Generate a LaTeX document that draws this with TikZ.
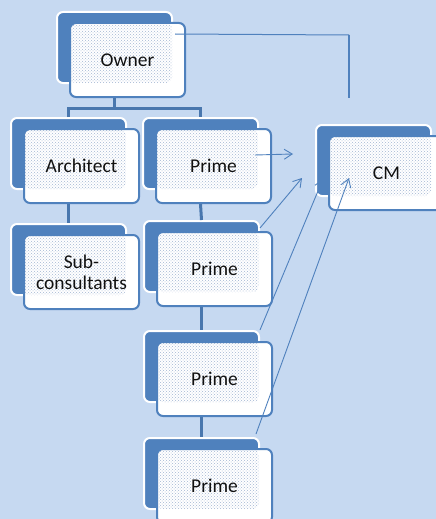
\documentclass[tikz,border=0pt]{standalone}
\usepackage{fontspec}
\setmainfont{Carlito}
\usetikzlibrary{arrows.meta,patterns,calc}
\definecolor{paper}{HTML}{C6D9F1}
\definecolor{accent}{HTML}{4F81BD}
\definecolor{dotgrey}{HTML}{A3B6D3}
\definecolor{ink}{HTML}{111111}

\begin{document}
\begin{tikzpicture}[
  x=1pt,y=-1pt,
  back/.style={draw=white,line width=2pt,fill=accent,rounded corners=6pt,anchor=north west,minimum width=115pt,minimum height=71pt,inner sep=0pt},
  front/.style={draw=accent,line width=2pt,fill=white,rounded corners=6pt,anchor=north west,minimum width=115pt,minimum height=74pt,inner sep=0pt,align=center,text=ink,font=\fontsize{19.5}{21}\selectfont,
    path picture={\fill[pattern=crosshatch dots,pattern color=dotgrey] (path picture bounding box.north west) rectangle ([xshift=102pt,yshift=-60pt]path picture bounding box.north west);}},
  tree/.style={draw=accent!92!black,line width=3pt},
  arr/.style={-{Straight Barb[length=8pt,width=10pt]},accent,line width=0.9pt}
]
  \useasboundingbox (0,0) rectangle (436,519);
  \fill[paper] (0,0) rectangle (436,519);

  % boxes: dark block behind, light card in front
  \node[back] (ownerB) at (56,11) {};
  \node[front] (owner) at (69,22) {Owner};
  \node[back] (archB) at (10,117) {};
  \node[front] (arch) at (23,128) {Architect};
  \node[back] (prime1B) at (142,117) {};
  \node[front] (prime1) at (155,128) {Prime};
  \node[back] (cmB) at (315,124) {};
  \node[front] (cm) at (328,135) {CM};
  \node[back] (subB) at (10,223) {};
  \node[front] (sub) at (23,234) {Sub-\\consultants};
  \node[back] (prime2B) at (143,220) {};
  \node[front] (prime2) at (156,231) {Prime};
  \node[back] (prime3B) at (143,330) {};
  \node[front] (prime3) at (156,341) {Prime};
  \node[back] (prime4B) at (143,437) {};
  \node[front] (prime4) at (156,448) {Prime};

  % tree
  \draw[tree] (ownerB.south |- owner.south) -- ++(0,10) coordinate (fork);
  \draw[tree] (archB.north) |- (fork) -| (prime1B.north);
  \draw[tree] (archB.south |- arch.south) -- (subB.north);
  \draw[tree] (prime1B.south |- prime1.south) -- (prime2B.north);
  \draw[tree] (prime2B.south |- prime2.south) -- (prime3B.north);
  \draw[tree] (prime3B.south |- prime3.south) -- (prime4B.north);

  % thin links
  \coordinate (cmtop) at (349,35);
  \coordinate (cmdrop) at (349,98);
  \coordinate (cmhit1) at (293,154);
  \coordinate (cmhit2) at (302,178);
  \coordinate (cmhit3) at (323,179);
  \coordinate (cmhit4) at (349,178);
  \draw[accent,line width=1pt] ([xshift=-11pt,yshift=-12pt]owner.north east) -- (cmtop);
  \draw[accent,line width=1.6pt] (cmtop) -- (cmdrop);
  \draw[arr] ([xshift=-17pt,yshift=11pt]prime1.east) -- (cmhit1);
  \draw[arr] ([yshift=-8pt]prime2B.north east) -- (cmhit2);
  \draw[arr] (prime3B.north east) -- (cmhit3);
  \draw[arr] ([xshift=-4pt,yshift=3pt]prime4B.north east) -- (cmhit4);
\end{tikzpicture}
\end{document}
